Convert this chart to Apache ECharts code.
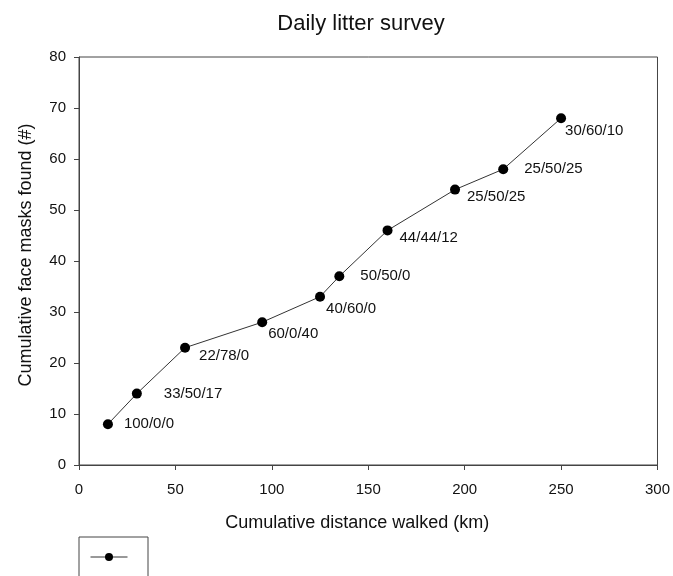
<!DOCTYPE html>
<html lang="en">
<head>
    <meta charset="UTF-8">
    <title>Daily litter survey</title>
    <script src="https://cdn.jsdelivr.net/npm/echarts@6/dist/echarts.min.js"></script>
    <style>
        * { margin: 0; padding: 0; }
        body { background: #fff; }
        #chart { width: 673px; height: 576px; }
    </style>
</head>
<body>
    <div id="chart"></div>
    <script>
        // Survey data
        const distanceKm = [15, 30, 55, 95, 125, 135, 160, 195, 220, 250];
        const masksFound = [8, 14, 23, 28, 33, 37, 46, 54, 58, 68];
        const compositionLabels = ['100/0/0', '33/50/17', '22/78/0', '60/0/40', '40/60/0',
            '50/50/0', '44/44/12', '25/50/25', '25/50/25', '30/60/10'];

        // label placement relative to each marker (styling only)
        const labelOffsets = [[11, 0], [22, 0], [9, 8], [1, 12], [1, 12],
            [16, 0], [7, 7], [7, 7], [16, 0], [-1, 13]];

        const font = 'Liberation Sans, Arial, sans-serif';
        const axisColor = '#444';

        const chart = echarts.init(document.getElementById('chart'));
        chart.setOption({
            animation: false,
            title: {
                text: 'Daily litter survey',
                left: 356,
                textAlign: 'center',
                top: 8,
                textStyle: { fontFamily: font, fontSize: 22, fontWeight: 'normal', color: '#111' }
            },
            grid: {
                left: 79, right: 15, top: 57, bottom: 111,
                show: true, borderColor: axisColor, borderWidth: 1
            },
            legend: {
                left: 79, top: 537,
                data: ['Cumulative masks'],
                formatter: () => '',
                itemWidth: 37, itemHeight: 10,
                itemGap: 0,
                padding: [15, 20, 30, 11],
                borderColor: axisColor, borderWidth: 1,
                itemStyle: { color: '#000' },
                lineStyle: { color: '#333', width: 1 }
            },
            xAxis: {
                type: 'value', min: 0, max: 300, interval: 50,
                name: 'Cumulative distance walked (km)',
                nameLocation: 'middle', nameGap: 49,
                nameTextStyle: { fontFamily: font, fontSize: 18, color: '#111', padding: [0, 22, 0, 0] },
                axisLine: { show: true, lineStyle: { color: axisColor } },
                axisTick: { show: true, length: 5, lineStyle: { color: axisColor } },
                axisLabel: { fontFamily: font, fontSize: 15, color: '#111', margin: 17 },
                splitLine: { show: false }
            },
            yAxis: {
                type: 'value', min: 0, max: 80, interval: 10,
                name: 'Cumulative face masks found (#)',
                nameLocation: 'middle', nameGap: 44,
                nameTextStyle: { fontFamily: font, fontSize: 18, color: '#111', padding: [0, 0, 0, 12] },
                axisLine: { show: true, lineStyle: { color: axisColor } },
                axisTick: { show: true, length: 5, lineStyle: { color: axisColor } },
                axisLabel: { fontFamily: font, fontSize: 15, color: '#111', margin: 13 },
                splitLine: { show: false }
            },
            series: [{
                name: 'Cumulative masks',
                type: 'line',
                data: distanceKm.map((x, i) => ({
                    value: [x, masksFound[i]],
                    label: {
                        show: true,
                        formatter: compositionLabels[i],
                        position: 'right',
                        distance: 0,
                        offset: labelOffsets[i]
                    }
                })),
                symbol: 'circle',
                symbolSize: 10,
                itemStyle: { color: '#000' },
                lineStyle: { color: '#333', width: 1 },
                label: { fontFamily: font, fontSize: 15, color: '#111', verticalAlign: 'middle' }
            }]
        });
    </script>
</body>
</html>
